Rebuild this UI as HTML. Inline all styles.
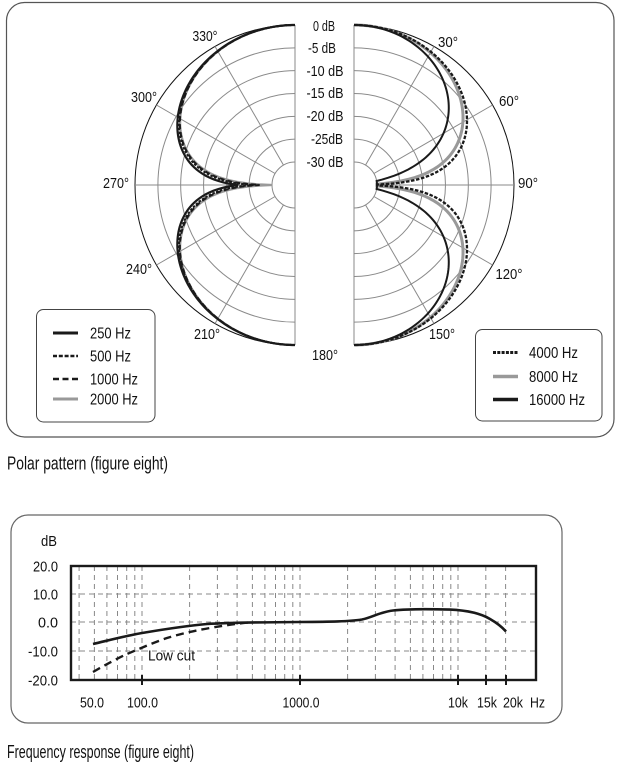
<!DOCTYPE html>
<html>
<head>
<meta charset="utf-8">
<style>
  html, body { margin:0; padding:0; background:#ffffff; }
  body { width:622px; height:766px; overflow:hidden; }
  svg { display:block; }
  text { font-family: "Liberation Sans", "DejaVu Sans", sans-serif; fill:#111; }
</style>
</head>
<body>
<svg id="s" width="622" height="766" viewBox="0 0 622 766" xmlns="http://www.w3.org/2000/svg">
  <!-- Polar outer box -->
  <rect x="6.5" y="2.5" width="607.5" height="434.5" rx="18" ry="18" fill="none" stroke="#555" stroke-width="1.2"/>

  <g id="grid"></g>
  <g id="curves"></g>

  <!-- dB labels -->
  <g font-size="14.5" text-anchor="middle">
    <text x="324" y="31" textLength="22" lengthAdjust="spacingAndGlyphs">0 dB</text>
    <text x="322" y="53" textLength="28" lengthAdjust="spacingAndGlyphs">-5 dB</text>
    <text x="325" y="76" textLength="37" lengthAdjust="spacingAndGlyphs">-10 dB</text>
    <text x="325" y="98" textLength="37" lengthAdjust="spacingAndGlyphs">-15 dB</text>
    <text x="325" y="121" textLength="37" lengthAdjust="spacingAndGlyphs">-20 dB</text>
    <text x="327" y="144" textLength="32" lengthAdjust="spacingAndGlyphs">-25dB</text>
    <text x="325" y="167" textLength="37" lengthAdjust="spacingAndGlyphs">-30 dB</text>
  </g>

  <!-- angle labels -->
  <g font-size="14.5" text-anchor="middle">
    <text x="205" y="41" textLength="25" lengthAdjust="spacingAndGlyphs">330°</text>
    <text x="144" y="102" textLength="26" lengthAdjust="spacingAndGlyphs">300°</text>
    <text x="116" y="188" textLength="26" lengthAdjust="spacingAndGlyphs">270°</text>
    <text x="139" y="274" textLength="26" lengthAdjust="spacingAndGlyphs">240°</text>
    <text x="207" y="339" textLength="26" lengthAdjust="spacingAndGlyphs">210°</text>
    <text x="325" y="360" textLength="26" lengthAdjust="spacingAndGlyphs">180°</text>
    <text x="442" y="339" textLength="26" lengthAdjust="spacingAndGlyphs">150°</text>
    <text x="509" y="279" textLength="27" lengthAdjust="spacingAndGlyphs">120°</text>
    <text x="528" y="188" textLength="20" lengthAdjust="spacingAndGlyphs">90°</text>
    <text x="509" y="106" textLength="20" lengthAdjust="spacingAndGlyphs">60°</text>
    <text x="448" y="47" textLength="20" lengthAdjust="spacingAndGlyphs">30°</text>
  </g>

  <!-- Left legend -->
  <rect x="36.5" y="309.5" width="118.5" height="112.5" rx="7" fill="#fff" stroke="#444" stroke-width="1"/>
  <line x1="53" y1="333" x2="78" y2="333" stroke="#1a1a1a" stroke-width="3"/>
  <line x1="53" y1="356" x2="78" y2="356" stroke="#1a1a1a" stroke-width="2.6" stroke-dasharray="4 1.8"/>
  <line x1="53" y1="379" x2="78" y2="379" stroke="#1a1a1a" stroke-width="2.6" stroke-dasharray="6 3.5"/>
  <line x1="53" y1="399" x2="78" y2="399" stroke="#999" stroke-width="3"/>
  <g font-size="15.5">
    <text x="90" y="338.5" textLength="41" lengthAdjust="spacingAndGlyphs">250 Hz</text>
    <text x="90" y="361.5" textLength="41" lengthAdjust="spacingAndGlyphs">500 Hz</text>
    <text x="90" y="384.5" textLength="48" lengthAdjust="spacingAndGlyphs">1000 Hz</text>
    <text x="90" y="404.5" textLength="48" lengthAdjust="spacingAndGlyphs">2000 Hz</text>
  </g>

  <!-- Right legend -->
  <rect x="475.5" y="329.5" width="126.5" height="91.5" rx="7" fill="#fff" stroke="#444" stroke-width="1"/>
  <line x1="493" y1="352.5" x2="518" y2="352.5" stroke="#1a1a1a" stroke-width="3" stroke-dasharray="3 1.3"/>
  <line x1="493" y1="376.5" x2="518" y2="376.5" stroke="#999" stroke-width="3.5"/>
  <line x1="493" y1="399.5" x2="518" y2="399.5" stroke="#1a1a1a" stroke-width="3.5"/>
  <g font-size="15.5">
    <text x="529" y="358" textLength="49" lengthAdjust="spacingAndGlyphs">4000 Hz</text>
    <text x="529" y="382" textLength="49" lengthAdjust="spacingAndGlyphs">8000 Hz</text>
    <text x="529" y="405" textLength="56" lengthAdjust="spacingAndGlyphs">16000 Hz</text>
  </g>

  <text x="7" y="469.5" font-size="18" textLength="161" lengthAdjust="spacingAndGlyphs">Polar pattern (figure eight)</text>

  <!-- Frequency response box -->
  <rect x="11" y="515" width="551" height="208" rx="17" ry="17" fill="none" stroke="#666" stroke-width="1.2"/>
  <g id="fgrid" stroke="#888" stroke-width="1" stroke-dasharray="5 4" fill="none"></g>
  <rect x="71" y="566" width="465" height="114" fill="none" stroke="#1a1a1a" stroke-width="2.4"/>
  <g stroke="#1a1a1a" stroke-width="2">
    <line x1="142" y1="675" x2="142" y2="685"/>
    <line x1="300" y1="675" x2="300" y2="685"/>
    <line x1="458" y1="675" x2="458" y2="685"/>
    <line x1="486" y1="675" x2="486" y2="685"/>
    <line x1="506" y1="675" x2="506" y2="685"/>
  </g>

  <path d="M93,644 C110,640 125,636 142,633 C160,630 180,626.5 207,624 C230,622.6 260,622.2 300,622 C330,621.8 350,621.5 362,619.5 C372,617.5 380,612 393,610.5 C405,609.2 430,609 450,609.6 C465,610.3 480,613 490,619 C497,623 502,627 506,631.5" fill="none" stroke="#1a1a1a" stroke-width="2.6"/>
  <path d="M93,672 C105,665 118,658 127,654 C140,648.5 155,642 167,638 C180,634 195,630.5 210,628 C225,625.3 237,623.5 250,622.4" fill="none" stroke="#1a1a1a" stroke-width="2.4" stroke-dasharray="8 5"/>

  <g font-size="14.5">
    <text x="148" y="660.5" textLength="47" lengthAdjust="spacingAndGlyphs">Low cut</text>
    <text x="57" y="546" text-anchor="end" textLength="16" lengthAdjust="spacingAndGlyphs">dB</text>
    <text x="58" y="571.5" text-anchor="end" textLength="25" lengthAdjust="spacingAndGlyphs">20.0</text>
    <text x="58" y="599.5" text-anchor="end" textLength="25" lengthAdjust="spacingAndGlyphs">10.0</text>
    <text x="58" y="627.5" text-anchor="end" textLength="20" lengthAdjust="spacingAndGlyphs">0.0</text>
    <text x="58" y="656.5" text-anchor="end" textLength="30" lengthAdjust="spacingAndGlyphs">-10.0</text>
    <text x="58" y="685.5" text-anchor="end" textLength="30" lengthAdjust="spacingAndGlyphs">-20.0</text>
    <text x="92" y="707.5" text-anchor="middle" textLength="24" lengthAdjust="spacingAndGlyphs">50.0</text>
    <text x="142.5" y="707.5" text-anchor="middle" textLength="31" lengthAdjust="spacingAndGlyphs">100.0</text>
    <text x="301" y="707.5" text-anchor="middle" textLength="37" lengthAdjust="spacingAndGlyphs">1000.0</text>
    <text x="458" y="707.5" text-anchor="middle" textLength="20" lengthAdjust="spacingAndGlyphs">10k</text>
    <text x="487" y="707.5" text-anchor="middle" textLength="20" lengthAdjust="spacingAndGlyphs">15k</text>
    <text x="513" y="707.5" text-anchor="middle" textLength="20" lengthAdjust="spacingAndGlyphs">20k</text>
    <text x="537.5" y="707.5" text-anchor="middle" textLength="15" lengthAdjust="spacingAndGlyphs">Hz</text>
  </g>

  <text x="7" y="758" font-size="18" textLength="187" lengthAdjust="spacingAndGlyphs">Frequency response (figure eight)</text>
</svg>
<script>
(function(){
  var NS = "http://www.w3.org/2000/svg";
  function el(parent, name, attrs){
    var e = document.createElementNS(NS, name);
    for (var k in attrs) e.setAttribute(k, attrs[k]);
    parent.appendChild(e);
    return e;
  }
  var grid = document.getElementById("grid");
  var CY = 185, R0 = 23, RMAX = 160;
  var centers = [[295,-1],[354,1]];
  var rings = [];
  for (var i=0;i<6;i++) rings.push(R0 + i*(RMAX-R0)/6);
  centers.forEach(function(c){
    var cx=c[0], s=c[1];
    rings.forEach(function(r){
      el(grid,"path",{d:"M"+cx+","+(CY-r)+" A"+r+","+r+" 0 0 "+(s<0?0:1)+" "+cx+","+(CY+r),fill:"none",stroke:"#8a8a8a","stroke-width":"1"});
    });
    el(grid,"path",{d:"M"+cx+","+(CY-RMAX)+" A"+RMAX+","+RMAX+" 0 0 "+(s<0?0:1)+" "+cx+","+(CY+RMAX),fill:"none",stroke:"#111","stroke-width":"1"});
    [30,60,90,120,150].forEach(function(a){
      var t=a*Math.PI/180;
      el(grid,"line",{x1:cx+s*R0*Math.sin(t),y1:CY-R0*Math.cos(t),x2:cx+s*RMAX*Math.sin(t),y2:CY-RMAX*Math.cos(t),stroke:"#8a8a8a","stroke-width":"1"});
    });
    el(grid,"line",{x1:cx,y1:CY-RMAX,x2:cx,y2:CY+RMAX,stroke:"#8a8a8a","stroke-width":"1"});
  });

  var curves = document.getElementById("curves");
  function lobe(cx, s, k, eps){
    var d="";
    for (var a=0;a<=180;a+=1){
      var t=a*Math.PI/180;
      var v=(Math.abs(Math.cos(t))+eps)/(1+eps);
      var L=k*20*Math.log(v)/Math.LN10;
      if (L<-30) L=-30;
      var r=R0+(L+30)/30*(RMAX-R0);
      var x=cx+s*r*Math.sin(t), y=CY-r*Math.cos(t);
      d+=(a===0?"M":"L")+x.toFixed(2)+","+y.toFixed(2)+" ";
    }
    return d;
  }
  // left side
  el(curves,"path",{d:lobe(295,-1,1.05,0.035),fill:"none",stroke:"#9a9a9a","stroke-width":"2.2"});
  el(curves,"path",{d:lobe(295,-1,1.07,0.056),fill:"none",stroke:"#1a1a1a","stroke-width":"2","stroke-dasharray":"5 3"});
  el(curves,"path",{d:lobe(295,-1,1.04,0.06),fill:"none",stroke:"#1a1a1a","stroke-width":"2","stroke-dasharray":"2.5 1.5"});
  el(curves,"path",{d:lobe(295,-1,1.0,0.08),fill:"none",stroke:"#1a1a1a","stroke-width":"2.2"});
  // right side
  el(curves,"path",{d:lobe(354,1,1.3,0.03),fill:"none",stroke:"#999","stroke-width":"3"});
  el(curves,"path",{d:lobe(354,1,1.12,0.03),fill:"none",stroke:"#1a1a1a","stroke-width":"2.3","stroke-dasharray":"3.5 1.6"});
  el(curves,"path",{d:lobe(354,1,2.15,0.03),fill:"none",stroke:"#1a1a1a","stroke-width":"2"});

  // frequency grid
  var fg = document.getElementById("fgrid");
  [594,622,651].forEach(function(y){ el(fg,"line",{x1:71,y1:y,x2:536,y2:y}); });
  var X100=142, DEC=158;
  var freqs=[40,50,60,70,80,90,100,200,300,400,500,600,700,800,900,1000,2000,3000,4000,5000,6000,7000,8000,9000,10000,15000,20000];
  freqs.forEach(function(f){
    var x = X100 + DEC*Math.log(f/100)/Math.LN10;
    el(fg,"line",{x1:x.toFixed(1),y1:566,x2:x.toFixed(1),y2:680});
  });
})();
</script>
</body>
</html>
